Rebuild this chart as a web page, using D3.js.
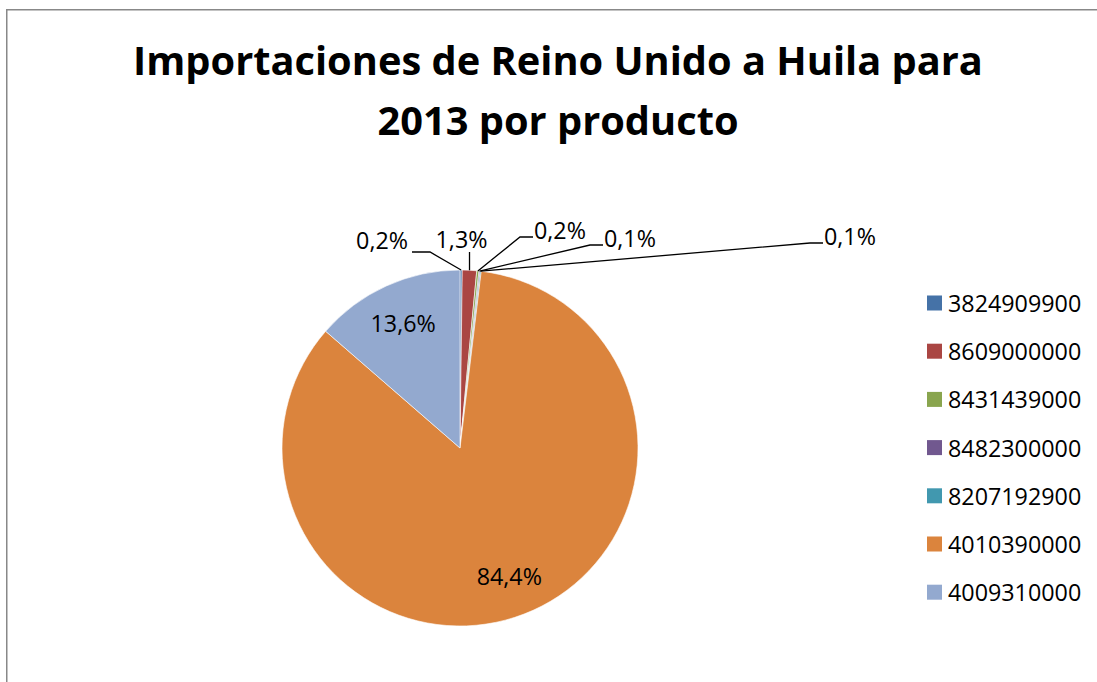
<!DOCTYPE html>
<html><head><meta charset="utf-8">
<script src="https://cdn.jsdelivr.net/npm/d3@7"></script>
<style>html,body{margin:0;padding:0;background:#fff;}svg{display:block;}</style>
</head><body>
<svg id="c" width="1097" height="682"></svg>
<script>
// ---- data ----
const categories = ["3824909900","8609000000","8431439000","8482300000","8207192900","4010390000","4009310000"];
const values = [0.2, 1.3, 0.2, 0.1, 0.1, 84.4, 13.6];
const colors = ["#4572A7","#AA4643","#89A54E","#71588F","#4198AF","#DB843D","#93A9CF"];
const titleLines = ["Importaciones de Reino Unido a Huila para", "2013 por producto"];

const W = 1097, H = 682;
const svg = d3.select("#c");
const FONT = "'Open Sans', 'DejaVu Sans', sans-serif";

// border
svg.append("rect").attr("x", 6.75).attr("y", 9.75).attr("width", 1200).attr("height", 800)
  .attr("fill", "none").attr("stroke", "#888").attr("stroke-width", 1.5);

// title (fit first line to target width)
const titleG = svg.append("g").attr("font-family", FONT).attr("font-weight", 700).attr("fill", "#000");
const t1 = titleG.append("text").attr("x", 558).attr("y", 75).attr("text-anchor", "middle").attr("font-size", 40).text(titleLines[0]);
const w40 = t1.node().getComputedTextLength();
const tfs = 40 * 850 / w40;
t1.attr("font-size", tfs);
titleG.append("text").attr("x", 558).attr("y", 135).attr("text-anchor", "middle").attr("font-size", tfs).text(titleLines[1]);

// pie
const cx = 460, cy = 448, R = 178;
const total = d3.sum(values);
const pie = d3.pie().sort(null).value(d => d)(values);
const arc = d3.arc().innerRadius(0).outerRadius(R);
const g = svg.append("g").attr("transform", `translate(${cx},${cy})`);
g.selectAll("path").data(pie).join("path")
  .attr("d", arc).attr("fill", (d, i) => colors[i])
  .attr("stroke", "#fff").attr("stroke-width", 0.6);

const fmt = v => d3.format(".1f")(v).replace(".", ",") + "%";
const LFS = 23.3;

// inside labels for large slices
const inArc = d3.arc().innerRadius(R * 0.77).outerRadius(R * 0.77);
pie.forEach((d, i) => {
  if (d.value / total < 0.05) return;
  const [x, y] = inArc.centroid(d);
  g.append("text").attr("x", x).attr("y", y).attr("text-anchor", "middle")
    .attr("dominant-baseline", "central").attr("font-family", FONT).attr("font-size", LFS)
    .attr("fill", "#000").text(fmt(d.value));
});

// outside labels with leader lines (elbow positions relative to pie centre)
const elbows = [
  {dx: -30, dy: -196, side: "left"},
  {dx: null, dy: -196, side: "up"},
  {dx: 60, dy: -211, side: "right"},
  {dx: 130, dy: -203, side: "right"},
  {dx: 350, dy: -205, side: "right"}
];
const edge = d3.arc().innerRadius(R).outerRadius(R);
let k = 0;
pie.forEach((d, i) => {
  if (d.value / total >= 0.05) return;
  const e = elbows[k++];
  const a = (d.startAngle + d.endAngle) / 2;
  const px = R * Math.sin(a), py = -R * Math.cos(a);
  const lg = g.append("g").attr("stroke", "#000").attr("stroke-width", 1.3).attr("fill", "none");
  const tx = g.append("text").attr("font-family", FONT).attr("font-size", LFS).attr("fill", "#000").text(fmt(d.value));
  if (e.side === "up") {
    lg.append("line").attr("x1", px).attr("y1", py).attr("x2", px).attr("y2", e.dy);
    tx.attr("x", px - 8).attr("y", e.dy - 4).attr("text-anchor", "middle");
  } else if (e.side === "left") {
    lg.append("polyline").attr("points", [[px, py], [e.dx, e.dy], [e.dx - 18, e.dy]].join(" "));
    tx.attr("x", e.dx - 22).attr("y", e.dy - 3).attr("text-anchor", "end");
  } else {
    lg.append("polyline").attr("points", [[px, py], [e.dx, e.dy], [e.dx + 13, e.dy]].join(" "));
    tx.attr("x", e.dx + 14).attr("y", e.dy + 2).attr("text-anchor", "start");
  }
});

// legend
const leg = svg.append("g").attr("transform", "translate(927,303)");
const rowH = 48.2;
categories.forEach((c, i) => {
  const row = leg.append("g").attr("transform", `translate(0,${i * rowH})`);
  row.append("rect").attr("x", 0).attr("y", -7.5).attr("width", 15).attr("height", 15).attr("fill", colors[i]);
  row.append("text").attr("x", 21).attr("y", 0).attr("dominant-baseline", "central")
    .attr("font-family", FONT).attr("font-size", LFS).attr("fill", "#000").text(c);
});
</script>
</body></html>
